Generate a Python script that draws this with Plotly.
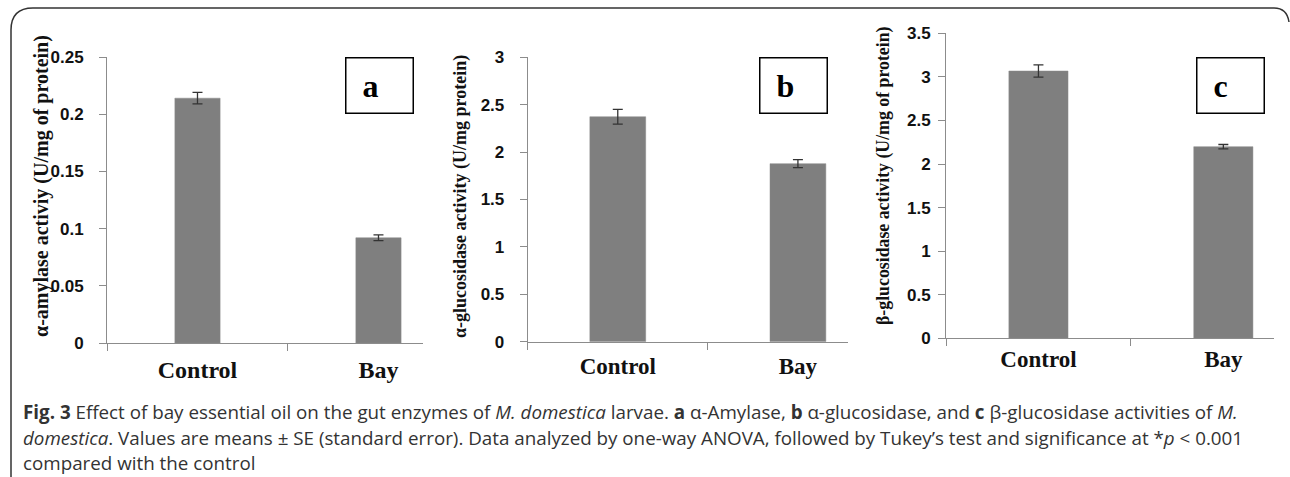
import plotly.graph_objects as go

# ---------------- data ----------------
categories = ["Control", "Bay"]
amylase = [0.214, 0.092]
amylase_se = [0.005, 0.0025]
a_glucosidase = [2.373, 1.878]
a_glucosidase_se = [0.078, 0.042]
b_glucosidase = [3.067, 2.199]
b_glucosidase_se = [0.07, 0.025]

W, H = 1290, 477


def px(v):
    return v / W


def py(v):
    return 1 - v / H


BAR = "#7f7f7f"
AX = "#8c8c8c"

fig = go.Figure()

panels = [
    dict(vals=amylase, se=amylase_se, width=0.25, xd=(107, 423), yd=(343, 57),
         xr=[-0.5, 1.246], yr=[0, 0.25], dt=0.05, stand=12, xstand=5, xsize=24,
         title="α-amylase activiy (U/mg of protein)", tsize=20, tx=41, ty=186,
         letter="a", box=(345, 413, 57, 113)),
    dict(vals=a_glucosidase, se=a_glucosidase_se, width=0.31, xd=(527.7, 848), yd=(341.7, 57.3),
         xr=[-0.5, 1.278], yr=[0, 3], dt=0.5, stand=12, xstand=4, xsize=23,
         title="α-glucosidase activity (U/mg protein)", tsize=18, tx=460, ty=197,
         letter="b", box=(759, 827, 57, 113)),
    dict(vals=b_glucosidase, se=b_glucosidase_se, width=0.32, xd=(946, 1274), yd=(338.3, 33.3),
         xr=[-0.5, 1.274], yr=[0, 3.5], dt=0.5, stand=4, xstand=0, xsize=23,
         title="β-glucosidase activity (U/mg of protein)", tsize=17.8, tx=883, ty=176,
         letter="c", box=(1196, 1264, 57, 113)),
]

annotations = []
for i, p in enumerate(panels):
    sfx = "" if i == 0 else str(i + 1)
    fig.add_trace(go.Bar(
        x=categories, y=p["vals"], width=p["width"],
        marker=dict(color=BAR, line=dict(color="#8a8a8a", width=0.5)),
        error_y=dict(type="data", array=p["se"], visible=True, color="#333333",
                     thickness=1.3, width=5),
        xaxis="x" + sfx, yaxis="y" + sfx, showlegend=False,
    ))
    fig.update_layout(**{
        "xaxis" + sfx: dict(
            domain=[px(p["xd"][0]), px(p["xd"][1])], range=p["xr"], type="category",
            anchor="y" + sfx, showline=True, linecolor=AX, linewidth=1,
            ticks="outside", tickson="boundaries", ticklen=7, tickcolor=AX,
            ticklabelstandoff=p["xstand"], automargin=False,
            showgrid=False, zeroline=False,
            tickfont=dict(family="Liberation Serif", size=p["xsize"], color="#111111", weight="bold"),
        ),
        "yaxis" + sfx: dict(
            domain=[py(p["yd"][0]), py(p["yd"][1])], range=p["yr"], dtick=p["dt"],
            anchor="x" + sfx, showline=True, linecolor=AX, linewidth=1,
            ticks="outside", ticklen=7, tickcolor=AX, ticklabelstandoff=p["stand"],
            automargin=False, showgrid=False, zeroline=False,
            tickfont=dict(family="Liberation Sans", size=17, color="#111111", weight="bold"),
        ),
    })
    annotations.append(dict(
        text=p["title"], textangle=-90, xref="paper", yref="paper",
        x=px(p["tx"]), y=py(p["ty"]), xanchor="center", yanchor="middle", showarrow=False,
        font=dict(family="Liberation Serif", size=p["tsize"], color="#111111", weight="bold"),
    ))
    x0, x1, y0, y1 = p["box"]
    annotations.append(dict(
        text="&nbsp;&nbsp;" + p["letter"], xref="paper", yref="paper",
        x=px((x0 + x1) / 2), y=py((y0 + y1) / 2), xanchor="center", yanchor="middle",
        showarrow=False, width=x1 - x0 - 2, height=y1 - y0 - 2, align="left",
        bordercolor="#000000", borderwidth=1.5, borderpad=0, bgcolor="white",
        font=dict(family="Liberation Serif", size=32, color="#000000", weight="bold"),
    ))

caption_lines = [
    "<b>Fig. 3</b> Effect of bay essential oil on the gut enzymes of <i>M. domestica</i> larvae. "
    "<b>a</b> α-Amylase, <b>b</b> α-glucosidase, and <b>c</b> β-glucosidase activities of <i>M.</i>",
    "<i>domestica</i>. Values are means ± SE (standard error). Data analyzed by one-way ANOVA, "
    "followed by Tukey’s test and significance at *<i>p</i> &lt; 0.001",
    "compared with the control",
]
caption_y = [412, 438, 463]
for line, yy in zip(caption_lines, caption_y):
    annotations.append(dict(
        text=line, xref="paper", yref="paper", x=px(21), y=py(yy),
        xanchor="left", yanchor="middle", showarrow=False,
        font=dict(family="Open Sans", size=18.8, color="#333333"),
    ))

frame_path = (
    f"M {px(11)},{py(477)} L {px(11)},{py(30)} Q {px(11)},{py(8)} {px(33)},{py(8)} "
    f"L {px(1274)},{py(8)} Q {px(1287)},{py(8)} {px(1289)},{py(22)}"
)

fig.update_layout(
    width=W, height=H, margin=dict(l=0, r=0, t=0, b=0, autoexpand=False),
    paper_bgcolor="white", plot_bgcolor="white",
    annotations=annotations,
    shapes=[dict(type="path", path=frame_path, xref="paper", yref="paper",
                 line=dict(color="#333333", width=1.5))],
    bargap=0.5,
)

fig.write_html(
    "out.html",
    config={"displayModeBar": False},
    post_script="document.body.style.margin='0';document.body.style.overflow='hidden';",
)
